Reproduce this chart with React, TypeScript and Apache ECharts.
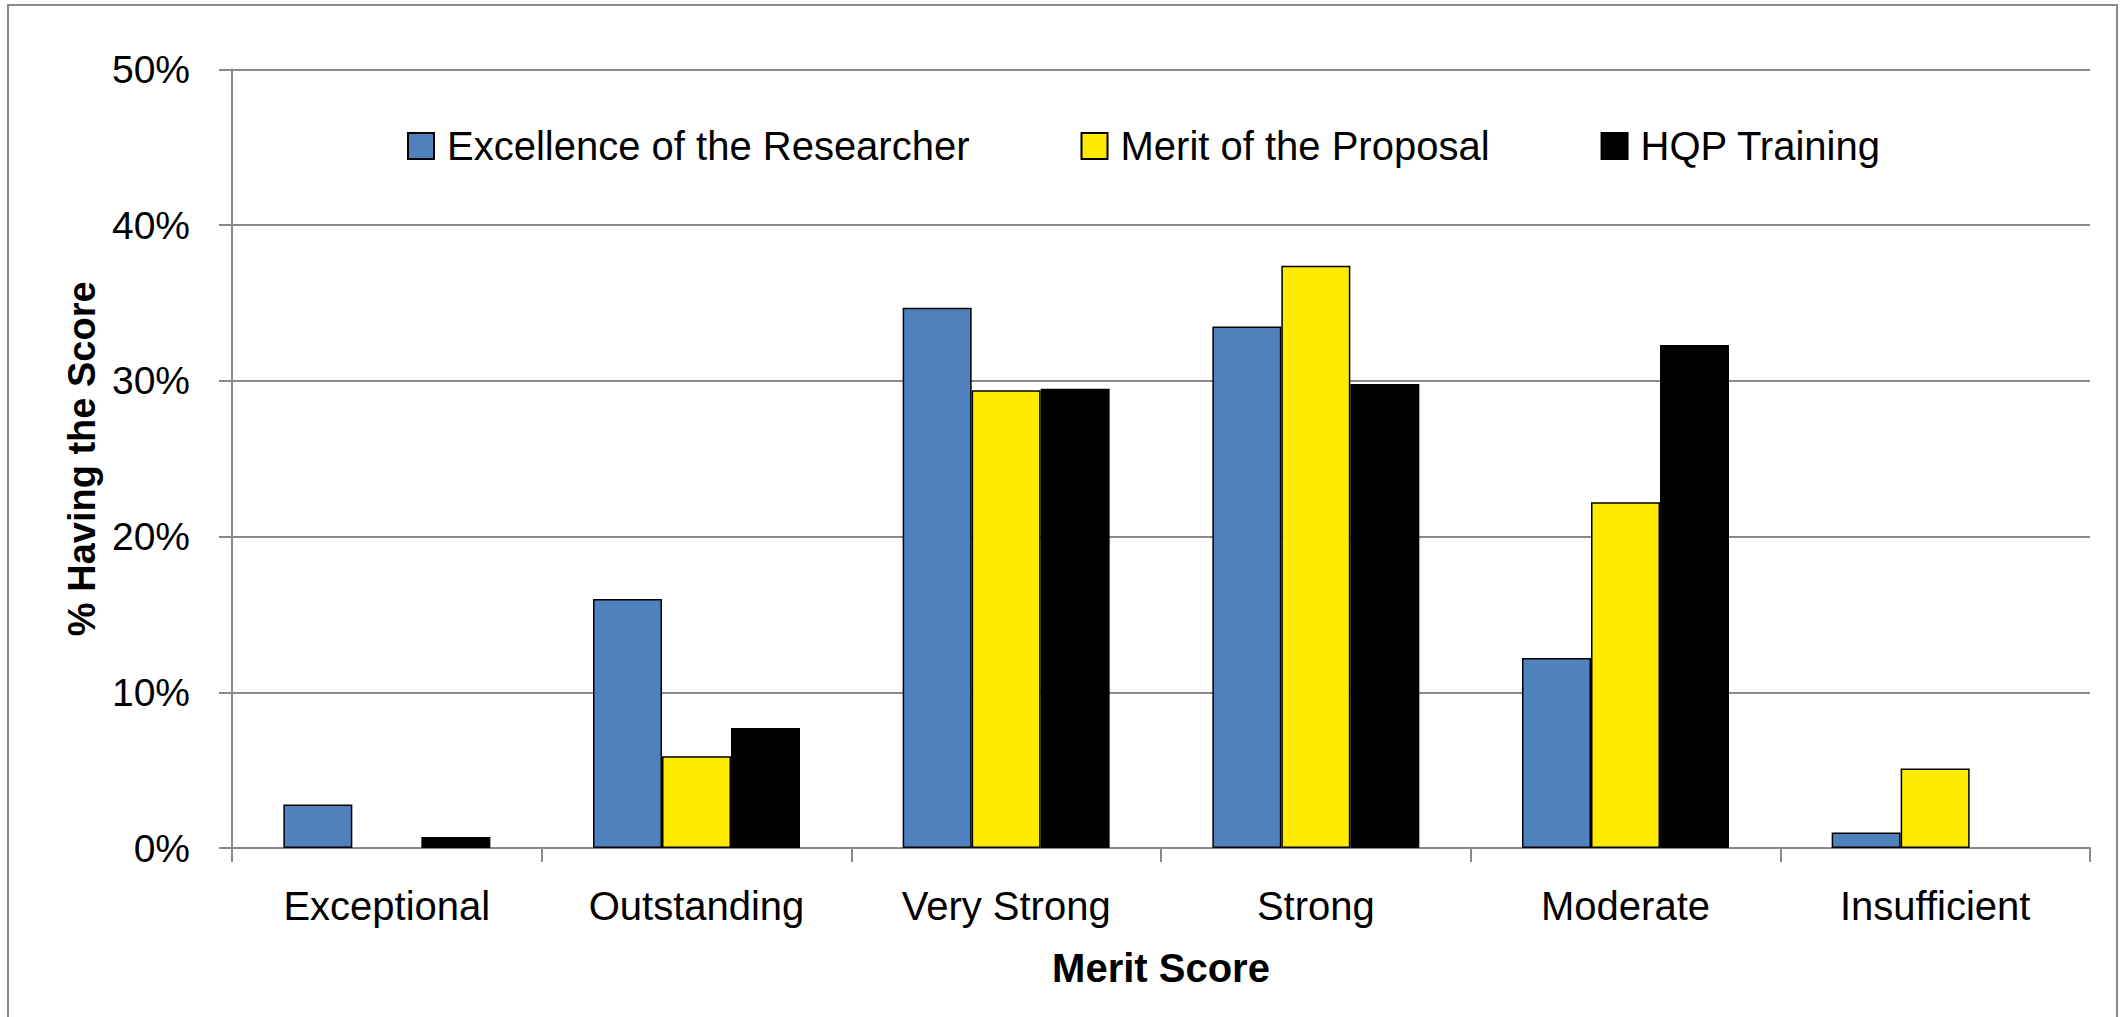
import React, { useEffect, useRef } from "react";
import * as echarts from "echarts";

const categories = ["Exceptional", "Outstanding", "Very Strong", "Strong", "Moderate", "Insufficient"];
const seriesNames = ["Excellence of the Researcher", "Merit of the Proposal", "HQP Training"];
const researcher = [2.8, 16.0, 34.7, 33.5, 12.2, 1.0];
const proposal = [0, 5.9, 29.4, 37.4, 22.2, 5.1];
const hqp = [0.7, 7.7, 29.5, 29.8, 32.3, 0];
const seriesColors = ["#4F81BD", "#FFEB00", "#000000"];
const yTicks = { min: 0, max: 50, interval: 10 };

const FONT = "'Liberation Sans', Arial, sans-serif";
const GRAY = "#898989";

export default function App() {
  const ref = useRef<HTMLDivElement>(null);
  useEffect(() => {
    const chart = echarts.init(ref.current!, null, { renderer: "svg" });
    const values = [researcher, proposal, hqp];
    chart.setOption({
      animation: false,
      backgroundColor: "#ffffff",
      textStyle: { fontFamily: FONT, color: "#000" },
      graphic: [
        {
          type: "rect",
          shape: { x: 8, y: 5, width: 2109, height: 1030 },
          style: { fill: "none", stroke: GRAY, lineWidth: 2 },
          silent: true,
        },
      ],
      legend: {
        left: 407,
        top: 126,
        padding: 0,
        itemWidth: 26,
        itemHeight: 26,
        itemGap: 111,
        icon: "rect",
        textStyle: {
          fontFamily: FONT,
          fontSize: 40,
          lineHeight: 40,
          color: "#000",
          padding: [0, 0, 0, 8],
        },
        data: seriesNames,
      },
      grid: { left: 232, right: 30, top: 69.5, bottom: 169, containLabel: false },
      xAxis: {
        type: "category",
        data: categories,
        name: "Merit Score",
        nameLocation: "middle",
        nameGap: 100,
        nameTextStyle: { fontFamily: FONT, fontSize: 40, fontWeight: "bold", color: "#000" },
        axisLine: { show: true, lineStyle: { color: GRAY, width: 2 } },
        axisTick: { show: true, alignWithLabel: false, length: 14, lineStyle: { color: GRAY, width: 2 } },
        axisLabel: { fontFamily: FONT, fontSize: 40, color: "#000", margin: 38, interval: 0 },
        splitLine: { show: false },
      },
      yAxis: {
        type: "value",
        min: yTicks.min,
        max: yTicks.max,
        interval: yTicks.interval,
        name: "% Having the Score",
        nameLocation: "middle",
        nameGap: 128,
        nameRotate: 90,
        nameTextStyle: { fontFamily: FONT, fontSize: 38, fontWeight: "bold", color: "#000" },
        axisLine: { show: true, lineStyle: { color: GRAY, width: 2 } },
        axisTick: { show: true, length: 13, lineStyle: { color: GRAY, width: 2 } },
        axisLabel: { fontFamily: FONT, fontSize: 39, color: "#000", margin: 42, formatter: "{value}%" },
        splitLine: { show: true, lineStyle: { color: GRAY, width: 2 } },
      },
      series: seriesNames.map((name, i) => ({
        name,
        type: "bar",
        barWidth: 69,
        barGap: "0%",
        itemStyle: { color: seriesColors[i], borderColor: "#000", borderWidth: 1.5 },
        data: values[i].map((v) => (v === 0 ? { value: v, itemStyle: { borderWidth: 0 } } : v)),
      })),
    });
    return () => chart.dispose();
  }, []);
  return (
    <div
      ref={ref}
      style={{ position: "absolute", left: 0, top: 0, width: 2120, height: 1017 }}
    />
  );
}
